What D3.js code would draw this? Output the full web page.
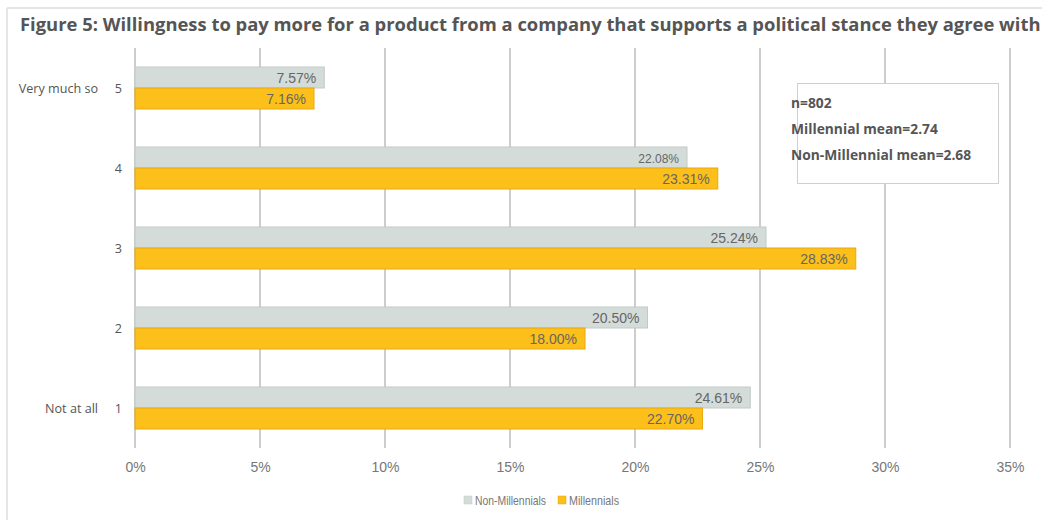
<!DOCTYPE html>
<html>
<head>
<meta charset="utf-8">
<script src="https://cdn.jsdelivr.net/npm/d3@7/dist/d3.min.js"></script>
<style>
  html, body { margin: 0; padding: 0; background: #fff; }
  svg { display: block; }
</style>
</head>
<body>
<svg id="chart" width="1042" height="520"></svg>
<script>
// Survey answers, top (5) to bottom (1)
const scores = ["5", "4", "3", "2", "1"];
const scoreNames = ["Very much so", "", "", "", "Not at all"];
const nonMillennials = [7.57, 22.08, 25.24, 20.50, 24.61];
const millennials = [7.16, 23.31, 28.83, 18.00, 22.70];
const seriesNames = ["Non-Millennials", "Millennials"];
const xTicks = [0, 5, 10, 15, 20, 25, 30, 35];
const noteLines = ["n=802", "Millennial mean=2.74", "Non-Millennial mean=2.68"];

const colors = { "Non-Millennials": "#d4dcd9", "Millennials": "#fdbf1a" };
const strokes = { "Non-Millennials": "#c2c9c6", "Millennials": "#e7a812" };

const svg = d3.select("#chart");
const W = 1042, H = 520;
const plot = { left: 135, right: 1010, top: 48, bottom: 448 };

// Page frame
svg.append("line").attr("x1", 7).attr("x2", W).attr("y1", 8).attr("y2", 8)
  .attr("stroke", "#e6e6e6").attr("stroke-width", 2);
svg.append("line").attr("x1", 7).attr("x2", 7).attr("y1", 8).attr("y2", H)
  .attr("stroke", "#e6e6e6").attr("stroke-width", 2);

// Title
svg.append("text")
  .attr("x", 20).attr("y", 31)
  .attr("font-family", "'Open Sans', sans-serif")
  .attr("font-weight", 700)
  .attr("font-size", 18.4)
  .attr("fill", "#555")
  .text("Figure 5: Willingness to pay more for a product from a company that supports a political stance they agree with");

const x = d3.scaleLinear().domain([0, 35]).range([plot.left, plot.right]);
const y = d3.scaleBand().domain(scores).range([plot.top, plot.bottom]);
const inner = d3.scaleBand().domain(seriesNames).range([0, 42]);

// Vertical gridlines
svg.append("g").selectAll("line").data(xTicks).join("line")
  .attr("x1", d => x(d)).attr("x2", d => x(d))
  .attr("y1", plot.top).attr("y2", plot.bottom)
  .attr("stroke", "#bdbdbd").attr("stroke-width", 1.5);

// x-axis labels
const xAxis = d3.axisBottom(x).tickValues(xTicks).tickFormat(d => d + "%").tickSize(0).tickPadding(14);
const ax = svg.append("g").attr("transform", `translate(0,${plot.bottom})`).call(xAxis);
ax.select(".domain").remove();
ax.selectAll("text")
  .attr("font-family", "'Liberation Sans', Arial, sans-serif")
  .attr("font-size", 14).attr("fill", "#777");

// Bars
const rows = scores.map((s, i) => ({ score: s, vals: [
  { key: "Non-Millennials", v: nonMillennials[i] },
  { key: "Millennials", v: millennials[i] }
]}));

const groups = svg.append("g").selectAll("g").data(rows).join("g")
  .attr("transform", d => `translate(0,${y(d.score) + (y.bandwidth() - 42) / 2})`);

groups.selectAll("rect").data(d => d.vals).join("rect")
  .attr("x", x(0))
  .attr("y", d => inner(d.key))
  .attr("width", d => x(d.v) - x(0))
  .attr("height", inner.bandwidth())
  .attr("fill", d => colors[d.key])
  .attr("stroke", d => strokes[d.key])
  .attr("stroke-width", 1);

// the 22.08% label is set in a smaller size
groups.selectAll("text.val").data(d => d.vals).join("text")
  .attr("class", "val")
  .attr("x", d => x(d.v) - 8)
  .attr("y", d => inner(d.key) + inner.bandwidth() / 2 + 5)
  .attr("text-anchor", "end")
  .attr("font-family", "'Liberation Sans', Arial, sans-serif")
  .attr("font-size", d => (d.key === "Non-Millennials" && d.v === 22.08) ? 12 : 14)
  .attr("fill", "#666")
  .text(d => d.v.toFixed(2) + "%");

// y-axis labels: score number and description
const yl = svg.append("g");
yl.selectAll("text.num").data(scores).join("text")
  .attr("class", "num")
  .attr("x", 122).attr("y", d => y(d) + y.bandwidth() / 2 + 5)
  .attr("text-anchor", "end")
  .attr("font-family", "'Open Sans', sans-serif")
  .attr("font-size", 12.6).attr("fill", "#555")
  .text(d => d);
yl.selectAll("text.name").data(scores).join("text")
  .attr("class", "name")
  .attr("x", 98).attr("y", d => y(d) + y.bandwidth() / 2 + 5)
  .attr("text-anchor", "end")
  .attr("font-family", "'Open Sans', sans-serif")
  .attr("font-size", 12.6).attr("fill", "#555")
  .text((d, i) => scoreNames[i]);

// Note box
svg.append("rect")
  .attr("x", 797.5).attr("y", 83.5).attr("width", 201).attr("height", 100)
  .attr("fill", "#fff").attr("stroke", "#cfcfcf").attr("stroke-width", 1);
svg.append("g").selectAll("text").data(noteLines).join("text")
  .attr("x", 791).attr("y", (d, i) => 108 + i * 26)
  .attr("font-family", "'Open Sans', sans-serif")
  .attr("font-weight", 700)
  .attr("font-size", 13.8).attr("fill", "#555")
  .text(d => d);

// Legend (condensed lettering)
const legend = svg.append("g").attr("transform", "translate(464,505)");
const legendX = [0, 94];
const legendTextW = [71, 50];
const li = legend.selectAll("g").data(seriesNames).join("g")
  .attr("transform", (d, i) => `translate(${legendX[i]},0)`);
li.append("rect").attr("x", 0).attr("y", -9).attr("width", 8).attr("height", 8)
  .attr("fill", d => colors[d]).attr("stroke", d => strokes[d]).attr("stroke-width", 0.5);
li.append("text").attr("x", 11).attr("y", 0)
  .attr("font-family", "'Liberation Sans', Arial, sans-serif")
  .attr("font-size", 13).attr("fill", "#777")
  .attr("textLength", (d, i) => legendTextW[i])
  .attr("lengthAdjust", "spacingAndGlyphs")
  .text(d => d);
</script>
</body>
</html>
